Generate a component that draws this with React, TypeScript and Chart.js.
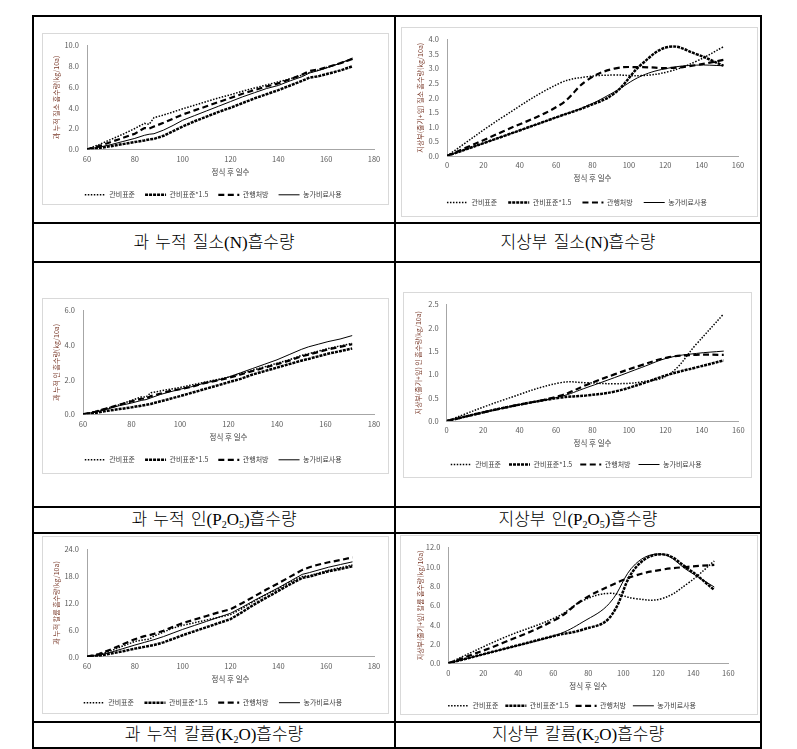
import React, { useEffect, useRef } from 'react';
import { Chart, registerables } from 'chart.js';
Chart.register(...registerables);

// ---------- data ----------
const seriesNames = ['관비표준', '관비표준*1.5', '관행처방', '농가비료사용'];

const fruitDays = [60, 65, 70, 75, 80, 84, 86, 88, 92, 96, 100, 105, 110, 115, 120, 125, 130, 135, 140, 145, 150, 153, 157, 161, 166, 171];
const fruitN_std = [0, 0.45, 0.95, 1.45, 2.0, 2.5, 2.4, 3.05, 3.3, 3.6, 3.9, 4.25, 4.6, 4.95, 5.25, 5.6, 5.9, 6.2, 6.5, 6.8, 7.15, 7.4, 7.65, 7.95, 8.3, 8.7];
const fruitN_x15 = [0, 0.12, 0.3, 0.5, 0.7, 0.85, 0.95, 1.0, 1.3, 1.75, 2.2, 2.7, 3.15, 3.6, 4.0, 4.45, 4.9, 5.3, 5.7, 6.15, 6.6, 6.9, 7.05, 7.3, 7.6, 8.0];
const fruitN_conv = [0, 0.3, 0.7, 1.1, 1.5, 2.05, 2.0, 2.2, 2.55, 2.95, 3.35, 3.75, 4.15, 4.55, 4.95, 5.35, 5.7, 6.05, 6.35, 6.75, 7.2, 7.55, 7.7, 7.95, 8.3, 8.7];
const fruitN_farm = [0, 0.2, 0.45, 0.75, 1.05, 1.35, 1.45, 1.5, 1.85, 2.3, 2.8, 3.25, 3.7, 4.15, 4.6, 5.05, 5.45, 5.85, 6.15, 6.6, 7.0, 7.35, 7.6, 7.9, 8.3, 8.8];

const fruitP_std = [0, 0.15, 0.35, 0.55, 0.8, 1.0, 1.0, 1.25, 1.35, 1.45, 1.55, 1.7, 1.85, 2.0, 2.15, 2.35, 2.55, 2.75, 2.95, 3.15, 3.4, 3.5, 3.65, 3.8, 3.95, 4.1];
const fruitP_x15 = [0, 0.08, 0.2, 0.3, 0.4, 0.5, 0.55, 0.6, 0.75, 0.9, 1.05, 1.25, 1.45, 1.65, 1.85, 2.05, 2.3, 2.5, 2.7, 2.9, 3.1, 3.2, 3.35, 3.5, 3.65, 3.8];
const fruitP_conv = [0, 0.15, 0.35, 0.55, 0.75, 0.9, 0.9, 1.05, 1.2, 1.35, 1.45, 1.6, 1.8, 1.95, 2.1, 2.3, 2.5, 2.7, 2.9, 3.1, 3.35, 3.45, 3.6, 3.75, 3.9, 4.05];
const fruitP_farm = [0, 0.12, 0.3, 0.5, 0.65, 0.8, 0.85, 0.95, 1.15, 1.3, 1.45, 1.6, 1.8, 1.95, 2.15, 2.4, 2.65, 2.9, 3.15, 3.45, 3.75, 3.9, 4.05, 4.2, 4.35, 4.55];

const fruitK_std = [0, 0.5, 1.3, 2.4, 3.4, 3.8, 3.9, 4.6, 5.5, 6.4, 7.0, 7.6, 8.2, 8.8, 9.4, 10.8, 12.4, 13.9, 15.2, 16.7, 17.9, 18.1, 18.7, 19.3, 19.9, 20.5];
const fruitK_x15 = [0, 0.2, 0.7, 1.2, 1.8, 2.2, 2.4, 2.6, 3.2, 4.0, 4.8, 5.7, 6.6, 7.5, 8.4, 10.0, 11.7, 13.2, 14.7, 16.2, 17.6, 17.9, 18.5, 19.1, 19.6, 20.2];
const fruitK_conv = [0, 0.6, 1.6, 2.8, 3.9, 4.6, 4.8, 5.1, 5.8, 6.7, 7.5, 8.3, 9.1, 9.9, 10.6, 12.0, 13.5, 15.0, 16.4, 17.9, 19.4, 20.0, 20.6, 21.1, 21.6, 22.2];
const fruitK_farm = [0, 0.3, 1.0, 1.8, 2.6, 3.2, 3.5, 3.8, 4.5, 5.3, 6.1, 7.0, 7.9, 8.8, 9.7, 11.1, 12.6, 14.0, 15.4, 16.9, 18.4, 18.8, 19.4, 20.0, 20.6, 21.2];

const shootDays = [0, 31, 62, 77, 92, 107, 122, 137, 152];
const shootN_std = [0, 1.35, 2.5, 2.72, 2.78, 2.76, 2.9, 3.25, 3.75];
const shootN_x15 = [0, 0.68, 1.37, 1.7, 2.15, 3.15, 3.75, 3.5, 3.1];
const shootN_conv = [0, 0.85, 1.75, 2.6, 3.0, 3.05, 3.02, 3.12, 3.3];
const shootN_farm = [0, 0.68, 1.37, 1.72, 2.2, 2.75, 3.02, 3.12, 3.1];

const shootP_std = [0, 0.45, 0.82, 0.82, 0.8, 0.84, 1.0, 1.65, 2.3];
const shootP_x15 = [0, 0.28, 0.5, 0.55, 0.63, 0.8, 1.0, 1.15, 1.3];
const shootP_conv = [0, 0.28, 0.54, 0.78, 1.0, 1.2, 1.37, 1.42, 1.42];
const shootP_farm = [0, 0.28, 0.52, 0.72, 0.93, 1.15, 1.36, 1.45, 1.5];

const shootK_std = [0, 2.6, 4.8, 6.5, 7.25, 6.7, 6.7, 8.3, 10.6];
const shootK_x15 = [0, 1.45, 2.9, 3.5, 4.7, 9.9, 11.3, 9.8, 7.6];
const shootK_conv = [0, 2.1, 4.6, 6.6, 8.0, 9.1, 9.7, 10.0, 10.2];
const shootK_farm = [0, 1.45, 2.95, 4.3, 6.2, 10.3, 11.3, 9.6, 7.9];

const xTitle = '정식 후 일수';

// ---------- styles ----------
const FONT = '"Noto Sans CJK KR", "Noto Sans", sans-serif';
const lineStyles = [
  { borderWidth: 1.5, borderDash: [1.5, 1.5] },
  { borderWidth: 2.5, borderDash: [3, 1] },
  { borderWidth: 2.2, borderDash: [6, 3.5] },
  { borderWidth: 1, borderDash: [] as number[] },
];

type Spec = {
  box: [number, number, number, number]; // left, top, right, bottom
  plotTop: number; plotBottom: number; axisX: number; plotRight: number; yTitleX: number;
  xs: number[]; series: number[][]; tension: number;
  xMin: number; xMax: number; yMax: number; yStep: number; yTitle: string; legendPad: number;
};

const XH = 32;
const XTITLE_PAD = 5;

function Panel({ spec }: { spec: Spec }) {
  const ref = useRef<HTMLCanvasElement>(null);
  const [bl, bt, br] = spec.box;
  const w = br - bl;
  const pt = spec.plotTop - bt;
  const plotH = spec.plotBottom - spec.plotTop;
  const legendH = 7 + spec.legendPad + 10;
  const need = pt + plotH + XH + legendH;
  const h = Math.ceil(need);
  const pb = h - need;
  const pl = spec.yTitleX - bl - 4.2;
  const yW = spec.axisX - bl - pl;
  const pr = br - spec.plotRight;

  useEffect(() => {
    const tickFont = { family: FONT, size: 7.5 };
    const chart = new Chart(ref.current as HTMLCanvasElement, {
      type: 'line',
      data: {
        datasets: spec.series.map((ys, i) => ({
          label: seriesNames[i],
          data: spec.xs.map((x, j) => ({ x, y: ys[j] })),
          borderColor: '#000',
          backgroundColor: '#000',
          pointRadius: 0,
          fill: false,
          tension: spec.tension,
          borderCapStyle: 'butt',
          ...lineStyles[i],
        })),
      },
      options: {
        responsive: false,
        animation: false,
        devicePixelRatio: 1,
        layout: { padding: { left: pl, right: pr, top: pt, bottom: pb } },
        plugins: {
          tooltip: { enabled: false },
          legend: {
            position: 'bottom',
            labels: {
              usePointStyle: true,
              pointStyleWidth: 21,
              padding: spec.legendPad,
              font: { family: FONT, size: 7 },
              color: '#404040',
              generateLabels: (c: any) =>
                c.data.datasets.map((ds: any, i: number) => ({
                  text: ds.label,
                  fillStyle: 'rgba(0,0,0,0)',
                  strokeStyle: '#000',
                  lineWidth: lineStyles[i].borderWidth,
                  lineDash: lineStyles[i].borderDash,
                  lineCap: 'butt',
                  pointStyle: 'line',
                  hidden: false,
                  datasetIndex: i,
                  fontColor: '#404040',
                })),
            },
          },
        },
        scales: {
          x: {
            type: 'linear',
            min: spec.xMin,
            max: spec.xMax,
            grid: { display: false, drawTicks: false },
            border: { display: true, color: '#a6a6a6', width: 1 },
            ticks: { stepSize: 20, padding: 5, font: tickFont, color: '#595959', maxRotation: 0, autoSkip: false },
            title: { display: true, text: xTitle, font: { family: FONT, size: 7.5 }, color: '#404040', padding: { top: 0, bottom: XTITLE_PAD } },
            afterFit: (s: any) => { s.height = XH; },
          },
          y: {
            type: 'linear',
            min: 0,
            max: spec.yMax,
            grid: { display: false, drawTicks: false },
            border: { display: true, color: '#a6a6a6', width: 1 },
            ticks: {
              stepSize: spec.yStep, padding: 8, font: tickFont, color: '#595959',
              callback: (v: any) => Number(v).toFixed(1),
            },
            title: { display: true, text: spec.yTitle, font: { family: FONT, size: 7 }, color: '#7b3b2b', padding: 0 },
            afterFit: (s: any) => { s.width = yW; },
          },
        },
      } as any,
    });
    return () => chart.destroy();
  }, []);

  return (
    <>
      <div style={{ position: 'absolute', left: bl, top: bt, width: w, height: spec.box[3] - bt, border: '1px solid #d9d9d9', boxSizing: 'border-box' }} />
      <canvas ref={ref} width={w} height={h} style={{ position: 'absolute', left: bl, top: bt, width: w, height: h }} />
    </>
  );
}

const specs: Spec[] = [
  { box: [42, 33, 389, 205], plotTop: 42, plotBottom: 149.3, axisX: 87, plotRight: 374, yTitleX: 56.7,
    xs: fruitDays, series: [fruitN_std, fruitN_x15, fruitN_conv, fruitN_farm], tension: 0,
    xMin: 60, xMax: 180, yMax: 10, yStep: 2, yTitle: '과 누적 질소 흡수량(kg/10a)', legendPad: 10 },
  { box: [401, 27, 758, 217], plotTop: 35, plotBottom: 156, axisX: 447, plotRight: 738, yTitleX: 420,
    xs: shootDays, series: [shootN_std, shootN_x15, shootN_conv, shootN_farm], tension: 0.4,
    xMin: 0, xMax: 160, yMax: 4, yStep: 0.5, yTitle: '지상부(줄기+잎) 질소 흡수량(kg/10a)', legendPad: 11 },
  { box: [42, 298, 389, 474], plotTop: 307, plotBottom: 414.3, axisX: 83, plotRight: 374, yTitleX: 56.7,
    xs: fruitDays, series: [fruitP_std, fruitP_x15, fruitP_conv, fruitP_farm], tension: 0,
    xMin: 60, xMax: 180, yMax: 6, yStep: 2, yTitle: '과 누적 인 흡수량(kg/10a)', legendPad: 10 },
  { box: [403, 292, 752, 478], plotTop: 300.7, plotBottom: 421, axisX: 446.7, plotRight: 738.3, yTitleX: 418.3,
    xs: shootDays, series: [shootP_std, shootP_x15, shootP_conv, shootP_farm], tension: 0.4,
    xMin: 0, xMax: 160, yMax: 2.5, yStep: 0.5, yTitle: '지상부(줄기+잎) 인 흡수량(kg/10a)', legendPad: 8 },
  { box: [42, 536, 389, 714], plotTop: 549.3, plotBottom: 656.7, axisX: 87, plotRight: 374, yTitleX: 56,
    xs: fruitDays, series: [fruitK_std, fruitK_x15, fruitK_conv, fruitK_farm], tension: 0,
    xMin: 60, xMax: 180, yMax: 24, yStep: 6, yTitle: '과 누적 칼륨 흡수량(kg/10a)', legendPad: 10.5 },
  { box: [400, 535, 758, 715], plotTop: 545, plotBottom: 663.3, axisX: 448.3, plotRight: 728.3, yTitleX: 420,
    xs: shootDays, series: [shootK_std, shootK_x15, shootK_conv, shootK_farm], tension: 0.4,
    xMin: 0, xMax: 160, yMax: 12, yStep: 2, yTitle: '지상부(줄기+잎) 칼륨 흡수량(kg/10a)', legendPad: 7 },
];

const H_LINES = [16, 223, 262, 507, 533, 722, 748];
const V_LINES = [33, 395, 761];
const LINE = 2;

const captionStyle: React.CSSProperties = {
  position: 'absolute', textAlign: 'center', fontFamily: '"Liberation Serif", "Noto Sans CJK KR", serif',
  fontSize: 17, fontWeight: 300, color: '#000', wordSpacing: 2, lineHeight: '20px', whiteSpace: 'nowrap',
};

function Caption({ left, right, cy, children }: { left: number; right: number; cy: number; children: React.ReactNode }) {
  return <div style={{ ...captionStyle, left, width: right - left, top: cy - 10 }}>{children}</div>;
}

const subStyle: React.CSSProperties = { fontSize: 10, verticalAlign: -3, lineHeight: 0 };

export default function App() {
  return (
    <div style={{ position: 'absolute', left: 0, top: 0, width: 797, height: 749, background: '#fff', overflow: 'hidden' }}>
      {H_LINES.map((y) => (
        <div key={'h' + y} style={{ position: 'absolute', left: V_LINES[0] - LINE / 2, top: y - LINE / 2, width: V_LINES[2] - V_LINES[0] + LINE, height: LINE, background: '#000' }} />
      ))}
      {V_LINES.map((x) => (
        <div key={'v' + x} style={{ position: 'absolute', left: x - LINE / 2, top: H_LINES[0] - LINE / 2, width: LINE, height: H_LINES[H_LINES.length - 1] - H_LINES[0] + LINE, background: '#000' }} />
      ))}
      {specs.map((s, i) => <Panel key={i} spec={s} />)}
      <Caption left={33} right={395} cy={243}>과 누적 질소(N)흡수량</Caption>
      <Caption left={395} right={761} cy={243}>지상부 질소(N)흡수량</Caption>
      <Caption left={33} right={395} cy={520}>과 누적 인(P<sub style={subStyle}>2</sub>O<sub style={subStyle}>5</sub>)흡수량</Caption>
      <Caption left={395} right={761} cy={520}>지상부 인(P<sub style={subStyle}>2</sub>O<sub style={subStyle}>5</sub>)흡수량</Caption>
      <Caption left={33} right={395} cy={735}>과 누적 칼륨(K<sub style={subStyle}>2</sub>O)흡수량</Caption>
      <Caption left={395} right={761} cy={735}>지상부 칼륨(K<sub style={subStyle}>2</sub>O)흡수량</Caption>
    </div>
  );
}
